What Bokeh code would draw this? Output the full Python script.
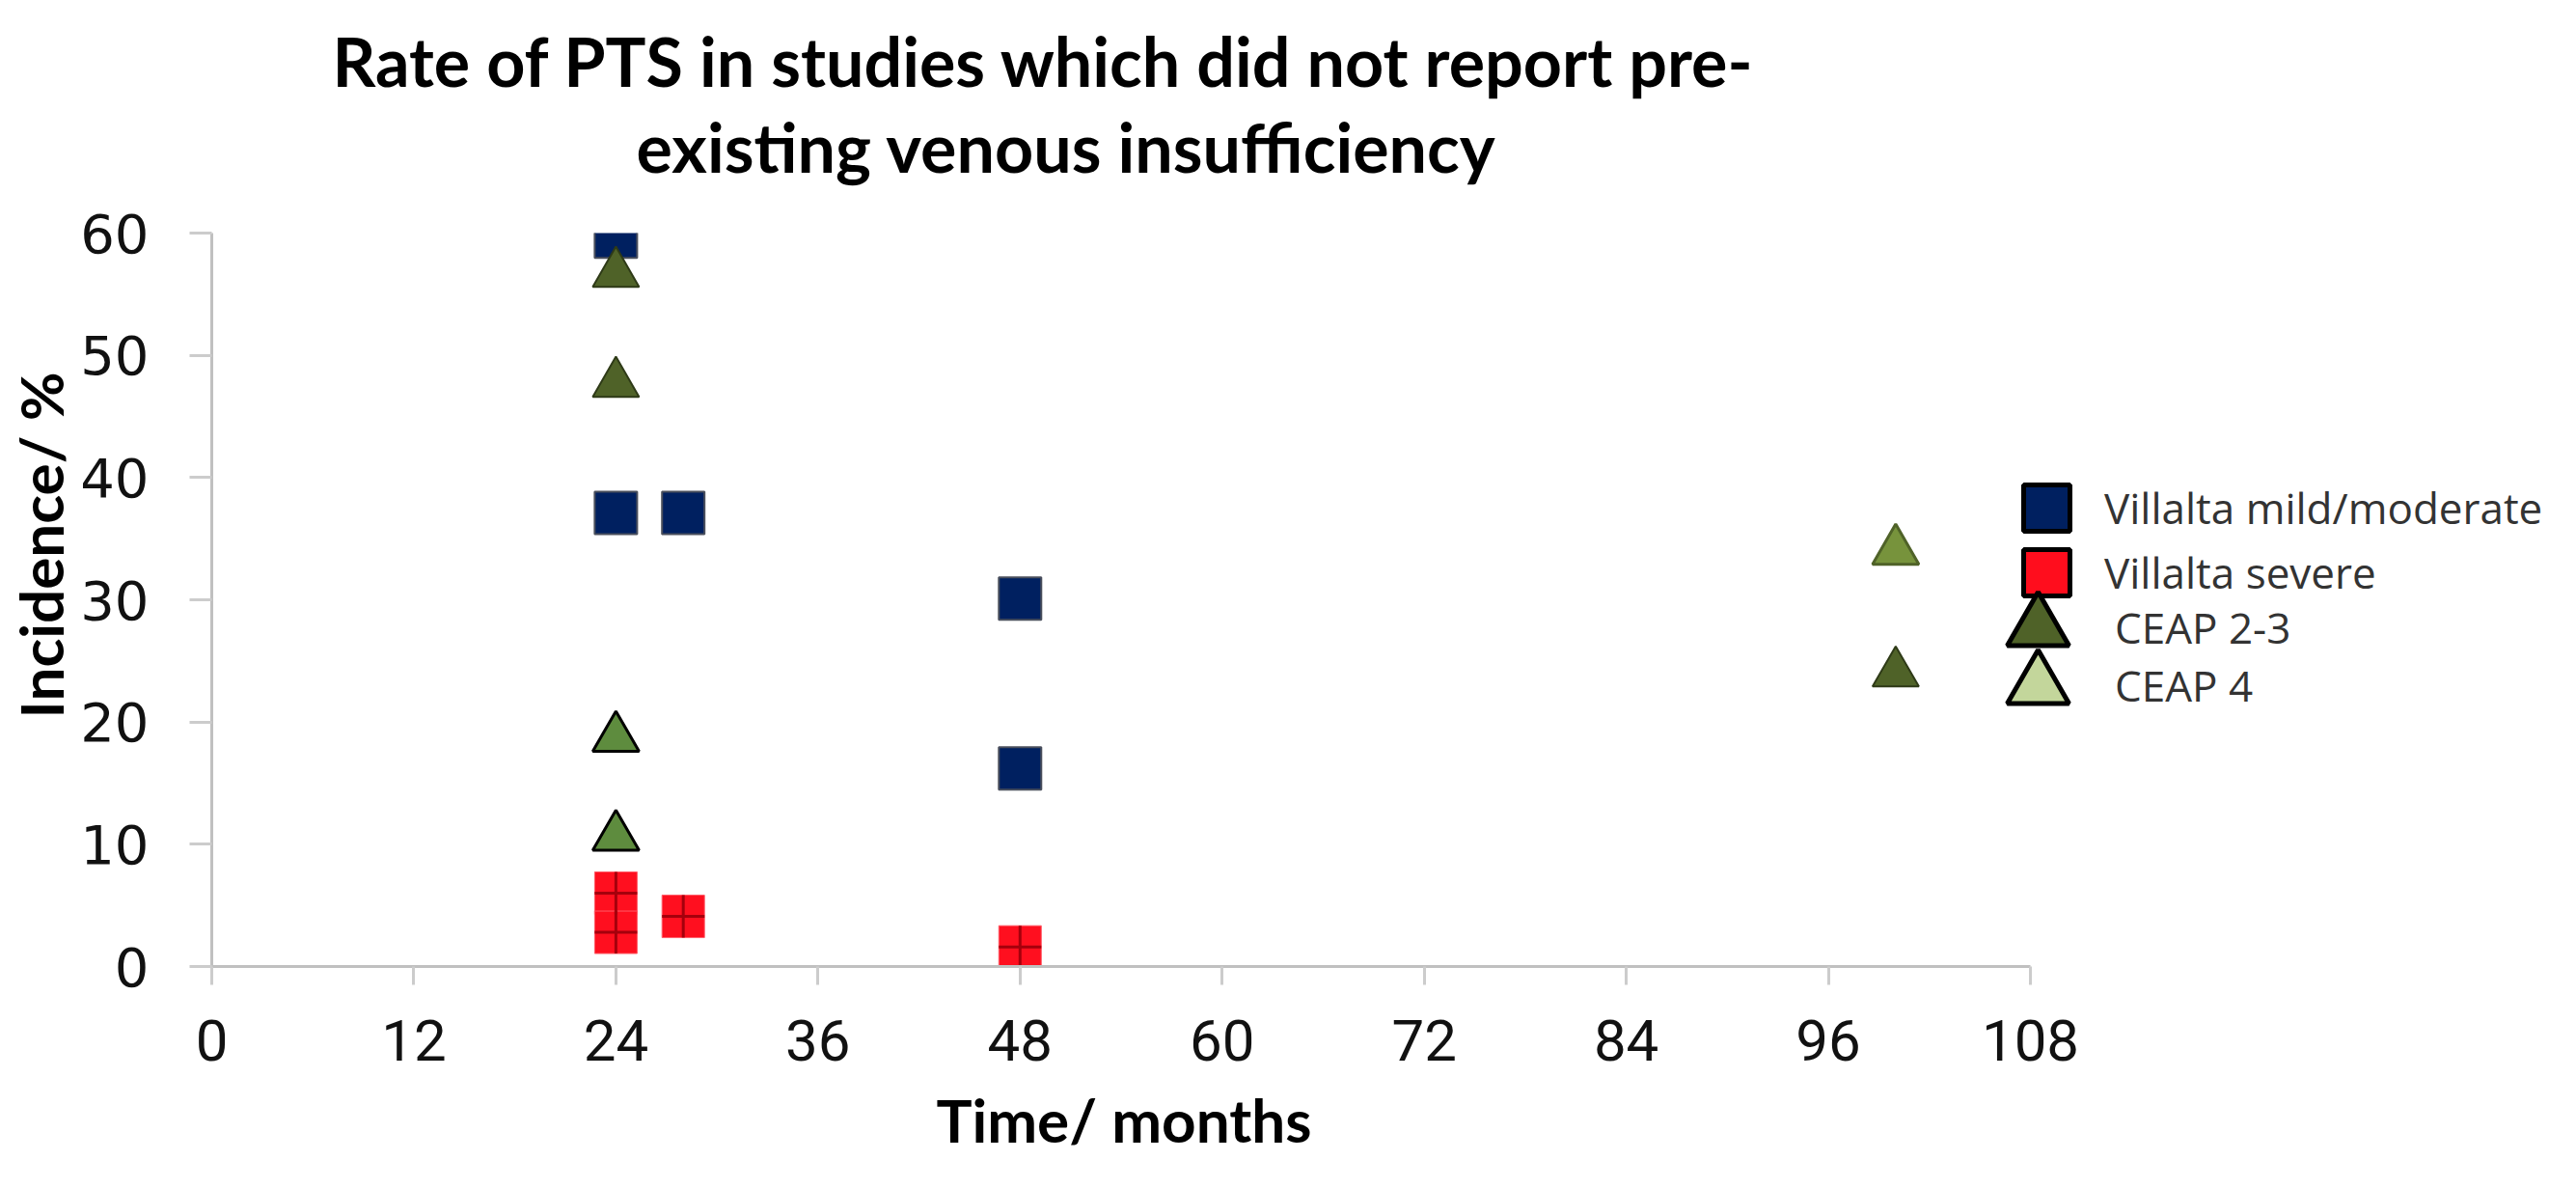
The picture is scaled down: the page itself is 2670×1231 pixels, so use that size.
from bokeh.plotting import figure
from bokeh.models import (ColumnDataSource, Range1d, FixedTicker, Legend, LegendItem, Title)
from bokeh.embed import file_html
from bokeh.resources import INLINE

# ---------------- data ----------------
x_ticks = [0, 12, 24, 36, 48, 60, 72, 84, 96, 108]
y_ticks = [0, 10, 20, 30, 40, 50, 60]

months_mild = [24, 24, 28, 48, 48]
incidence_mild = [59.7, 37.1, 37.1, 30.1, 16.2]

months_severe = [24, 24, 28, 48]
incidence_severe = [6.0, 2.8, 4.1, 1.6]

months_ceap23 = [24, 24, 100]
incidence_ceap23 = [56.7, 47.7, 24.0]

months_ceap4 = [24, 24, 100]
incidence_ceap4 = [18.7, 10.6, 34.0]

series_names = ["Villalta mild/moderate", "Villalta severe", "CEAP 2-3", "CEAP 4"]
title_lines = ["Rate of PTS in studies which did not report pre-",
               "existing venous insufficiency"]
x_label = "Time/ months"
y_label = "Incidence/ %"

# ---------------- layout ----------------
W, H = 2654, 1215
LEFT, RIGHT, TOP, BOTTOM = 219, 0, 241, 212
frame_w = W - LEFT - RIGHT
PX_PER_MONTH = 1885 / 108.0

p = figure(width=W, height=H, output_backend="svg", toolbar_location=None,
           x_range=Range1d(0, frame_w / PX_PER_MONTH), y_range=Range1d(0, 60),
           min_border_left=LEFT, min_border_right=RIGHT,
           min_border_top=TOP, min_border_bottom=BOTTOM)
p.outline_line_color = None
p.grid.visible = False
p.background_fill_color = "white"
p.border_fill_color = "white"

for ax in (p.xaxis[0], p.yaxis[0]):
    ax.axis_line_color = "#c0c0c0"
    ax.axis_line_width = 3
    ax.major_tick_line_color = "#cccccc"
    ax.major_tick_line_width = 3
    ax.major_tick_in = 0
    ax.minor_tick_line_color = None
    ax.major_label_text_color = "#111111"

p.xaxis.bounds = (0, 108)
p.yaxis.bounds = (0, 60)
p.xaxis.ticker = FixedTicker(ticks=x_ticks)
p.yaxis.ticker = FixedTicker(ticks=y_ticks)
p.xaxis.major_tick_out = 19
p.yaxis.major_tick_out = 23
p.xaxis.major_label_text_font = "Roboto"
p.xaxis.major_label_text_font_size = "60px"
p.xaxis.major_label_standoff = 36
p.yaxis.major_label_text_font = "DejaVu Sans"
p.yaxis.major_label_text_font_size = "56px"
p.yaxis.major_label_standoff = 42

# axis titles as side-panel titles (placed where the reference has them)
p.add_layout(Title(text=x_label, align="left", offset=751, text_font="Lato",
                   text_font_style="bold", text_font_size="62px", text_color="#000000",
                   standoff=38), "below")
p.add_layout(Title(text=y_label, align="left", offset=257, text_font="Lato",
                   text_font_style="bold", text_font_size="62px", text_color="#000000",
                   standoff=4), "left")

# ---------------- marks ----------------
src_mild = ColumnDataSource(dict(x=months_mild, y=incidence_mild))
p.scatter("x", "y", source=src_mild, marker="square", size=44,
          fill_color="#002060", line_color="#4a4f5c", line_width=2)

src_sev = ColumnDataSource(dict(x=months_severe, y=incidence_severe))
p.scatter("x", "y", source=src_sev, marker="square", size=44,
          fill_color="#ff0f1f", line_color="#ff5a66", line_width=1)
p.scatter("x", "y", source=src_sev, marker="cross", size=44,
          line_color="#a5000c", line_width=3)

src_c23 = ColumnDataSource(dict(x=months_ceap23, y=incidence_ceap23))
p.scatter("x", "y", source=src_c23, marker="triangle", size=48,
          fill_color="#4f6228", line_color="#2e3a17", line_width=2)

c4_fill = ["#5e8c3e" if m < 60 else "#77933c" for m in months_ceap4]
c4_line = ["#000000" if m < 60 else "#4f6228" for m in months_ceap4]
src_c4 = ColumnDataSource(dict(x=months_ceap4, y=incidence_ceap4, f=c4_fill, l=c4_line))
p.scatter("x", "y", source=src_c4, marker="triangle", size=48,
          fill_color="f", line_color="l", line_width=3)

# ---------------- legend (legend-only glyphs, one legend per entry) ----------------
def key(marker, fill):
    src = ColumnDataSource(dict(x=[float("nan")], y=[float("nan")]))
    return p.scatter("x", "y", source=src, marker=marker, fill_color=fill,
                     line_color="black", line_width=5)

keys = [key("square", "#002060"), key("square", "#ff0d1d"),
        key("triangle", "#4f6228"), key("triangle", "#c3d69b")]
# (left, bottom) in px from the frame's bottom-left; glyph box size
legend_spots = [(1842, 415, 120), (1842, 348, 120),
                (1813, 271, 160), (1813, 211, 160)]
for name, rend, (lx, ly, box) in zip(series_names, keys, legend_spots):
    lg = Legend(items=[LegendItem(label=name, renderers=[rend])], location=(lx, ly))
    lg.glyph_width = box
    lg.glyph_height = box
    lg.label_standoff = 0
    lg.padding = 0
    lg.margin = 0
    lg.border_line_color = None
    lg.background_fill_alpha = 0
    lg.label_text_font = "Open Sans"
    lg.label_text_font_size = "44px"
    lg.label_text_color = "#333333"
    p.add_layout(lg)

# ---------------- title (two lines, stacked above the frame) ----------------
p.add_layout(Title(text=title_lines[1], align="left", offset=440, text_font="Lato",
                   text_font_style="bold", text_font_size="70px", text_color="#000000",
                   standoff=96), "above")
p.add_layout(Title(text=title_lines[0], align="left", offset=125, text_font="Lato",
                   text_font_style="bold", text_font_size="70px", text_color="#000000",
                   standoff=-91), "above")

open("out.html", "w").write(file_html(p, INLINE))
